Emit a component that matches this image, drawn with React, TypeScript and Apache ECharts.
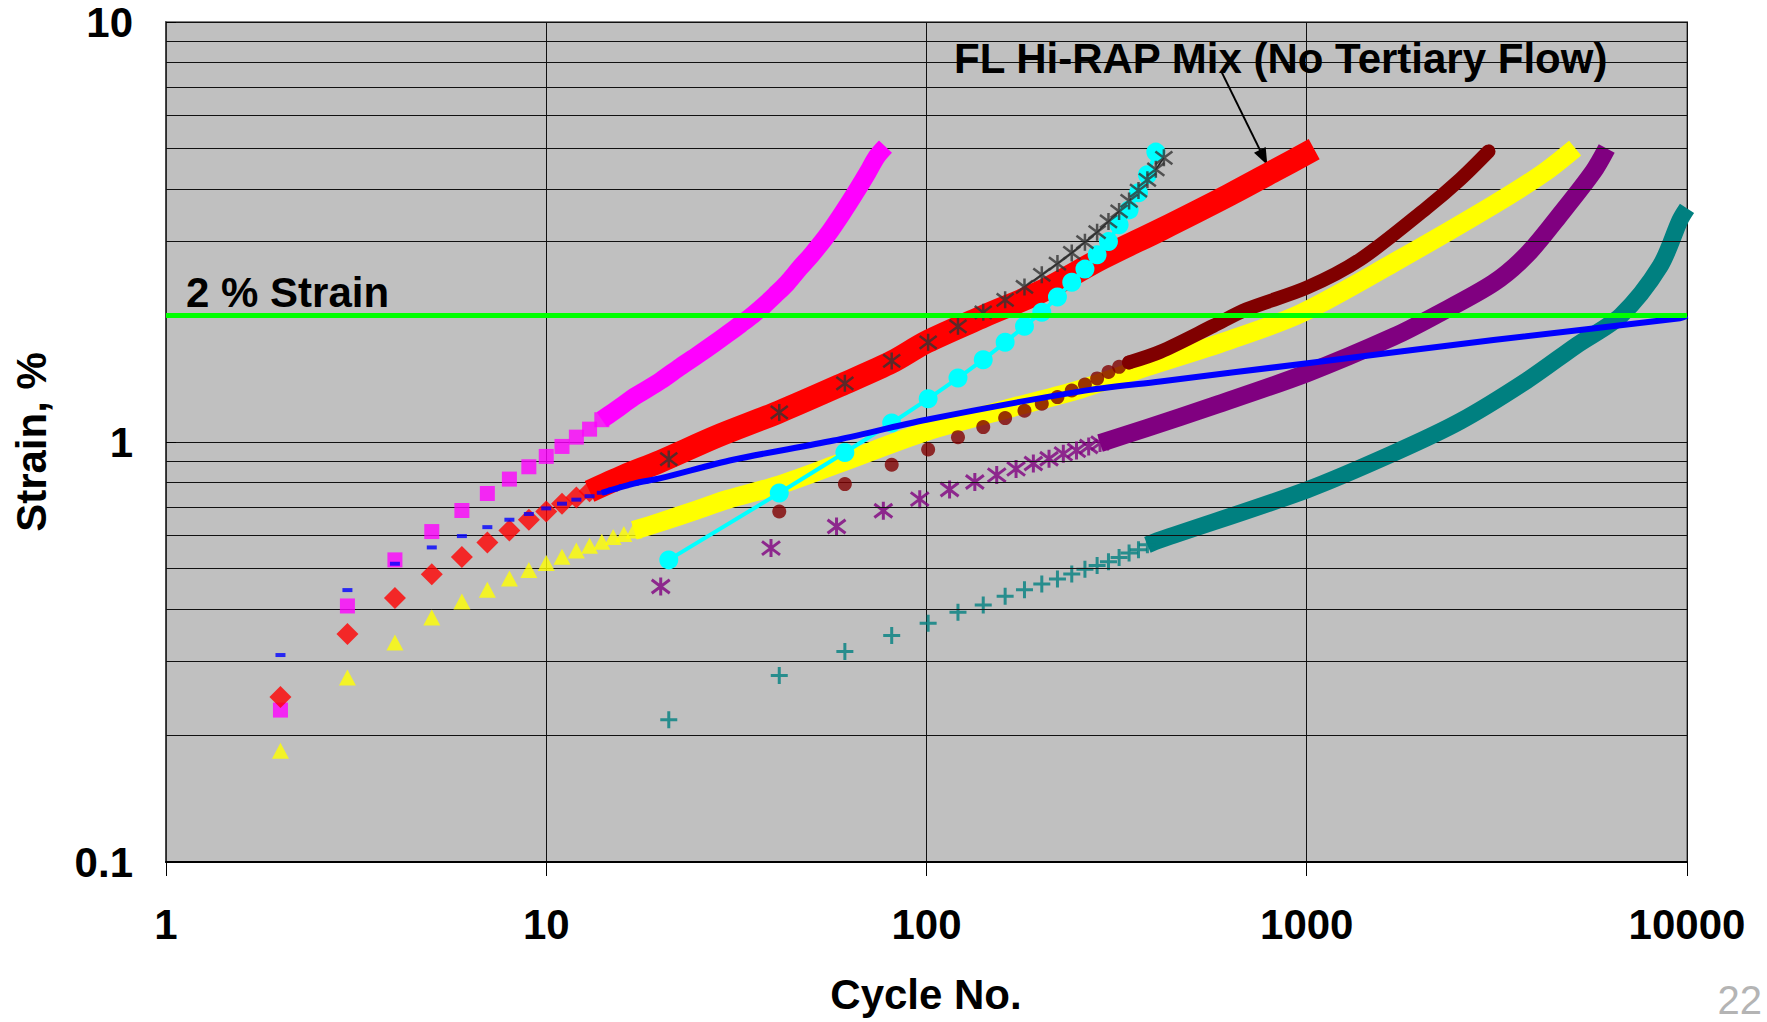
import React, { useEffect, useRef } from 'react';
import * as echarts from 'echarts';

// ---------- tick labels ----------
const X_TICK_LABELS = ['1', '10', '100', '1000', '10000'];
const Y_TICK_LABELS = ['0.1', '1', '10'];
const Y_MINOR_GRID = [0.2, 0.3, 0.4, 0.5, 0.6, 0.7, 0.8, 0.9, 2, 3, 4, 5, 6, 7, 8, 9];

// ---------- reference line / annotation ----------
const STRAIN_LIMIT = [[1, 2], [10000, 2]];
const ARROW_FROM = [596, 7.63];
const ARROW_TO = [770, 4.76];

// ---------- series (cycle, strain %) ----------
const MAGENTA_MARKERS = [[2, 0.23], [3, 0.407], [4, 0.524], [5, 0.612], [6, 0.687], [7, 0.754], [8, 0.816], [9, 0.873], [10, 0.924], [11, 0.976], [12, 1.027], [13, 1.073], [14, 1.13]];
const MAGENTA_BAND = [[14, 1.13], [15, 1.18], [16, 1.23], [17, 1.28], [18, 1.32], [20, 1.4], [22.5, 1.51], [25, 1.61], [27.5, 1.71], [30, 1.81], [32.5, 1.91], [35, 2.01], [37.5, 2.12], [40, 2.24], [43, 2.39], [46.5, 2.6], [50, 2.8], [55, 3.12], [60, 3.5], [65, 3.92], [70, 4.38], [74, 4.78], [78, 5.05]];

const RED_MARKERS = [[2, 0.247], [3, 0.349], [4, 0.425], [5, 0.484], [6, 0.532], [7, 0.576], [8, 0.616], [9, 0.653], [10, 0.683], [11, 0.713], [12, 0.738], [13, 0.763]];
const RED_BAND = [[13, 0.763], [16, 0.83], [20, 0.9], [28, 1.03], [41, 1.18], [61, 1.38], [81, 1.55], [100, 1.73], [141, 1.99], [200, 2.28], [290, 2.74], [412, 3.2], [617, 3.85], [820, 4.42], [1046, 4.98]];

const BLUE_MARKERS = [[2, 0.311], [3, 0.444], [4, 0.513], [5, 0.561], [6, 0.597], [7, 0.627], [8, 0.653], [9, 0.674], [10, 0.695], [11, 0.713], [12, 0.729], [13, 0.743], [14, 0.757], [15, 0.771], [16, 0.785], [17, 0.796], [18, 0.805]];
const BLUE_BAND = [[14, 0.757], [17, 0.796], [20, 0.82], [31, 0.907], [57, 1.008], [100, 1.13], [254, 1.32], [412, 1.394], [1004, 1.54], [3097, 1.75], [9590, 1.97], [10000, 2.0]];

const YELLOW_MARKERS = [[2, 0.184], [3, 0.275], [4, 0.333], [5, 0.382], [6, 0.417], [7, 0.445], [8, 0.473], [9, 0.496], [10, 0.515], [11, 0.533], [12, 0.552], [13, 0.566], [14, 0.579], [15, 0.594], [16, 0.604], [17, 0.616]];
const YELLOW_BAND = [[17, 0.616], [20, 0.645], [25, 0.69], [30, 0.73], [41, 0.79], [61, 0.9], [100, 1.06], [169, 1.21], [250, 1.33], [380, 1.51], [617, 1.74], [961, 2.02], [1690, 2.67], [3097, 3.67], [4193, 4.37], [5079, 5.01]];

const DARKRED_MARKERS = [[21, 0.519], [41, 0.683], [61, 0.794], [81, 0.883], [101, 0.96], [121, 1.027], [141, 1.085], [161, 1.14], [181, 1.187], [201, 1.233], [221, 1.279], [241, 1.326], [261, 1.37], [281, 1.417], [301, 1.468], [321, 1.51], [341, 1.547]];
const DARKRED_BAND = [[341, 1.547], [412, 1.64], [568, 1.89], [695, 2.07], [1000, 2.33], [1382, 2.72], [2069, 3.61], [2532, 4.22], [3006, 4.92]];

const CYAN_POINTS = [[21, 0.524], [41, 0.756], [61, 0.944], [81, 1.11], [101, 1.267], [121, 1.42], [141, 1.57], [161, 1.727], [181, 1.886], [201, 2.036], [221, 2.215], [241, 2.4], [261, 2.58], [281, 2.79], [301, 3.0], [321, 3.29], [341, 3.57], [361, 3.92], [381, 4.33], [401, 4.9]];

const GRAY_POINTS = [[21, 0.911], [41, 1.176], [61, 1.38], [81, 1.56], [101, 1.727], [121, 1.886], [141, 2.036], [161, 2.18], [181, 2.34], [201, 2.5], [221, 2.66], [241, 2.82], [261, 2.99], [281, 3.16], [301, 3.35], [321, 3.54], [341, 3.75], [361, 3.97], [381, 4.21], [401, 4.46], [421, 4.75]];

const PURPLE_MARKERS = [[20, 0.453], [39, 0.559], [58, 0.629], [77, 0.686], [96, 0.731], [115, 0.771], [134, 0.803], [153, 0.834], [172, 0.863], [191, 0.889], [210, 0.912], [229, 0.937], [248, 0.955], [267, 0.976], [286, 0.994]];
const PURPLE_BAND = [[286, 0.994], [380, 1.08], [569, 1.22], [1004, 1.46], [1690, 1.78], [2176, 2.0], [3097, 2.39], [3790, 2.79], [4638, 3.48], [5675, 4.41], [6150, 5.0]];

const TEAL_MARKERS = [[21, 0.218], [41, 0.278], [61, 0.317], [81, 0.346], [101, 0.37], [121, 0.393], [141, 0.409], [161, 0.429], [181, 0.445], [201, 0.459], [221, 0.472], [241, 0.485], [261, 0.498], [281, 0.508], [301, 0.519], [321, 0.531], [341, 0.544], [361, 0.554], [381, 0.569]];
const TEAL_BAND = [[381, 0.569], [412, 0.585], [1004, 0.77], [1690, 0.94], [2532, 1.12], [3790, 1.4], [5130, 1.7], [6700, 2.0], [8494, 2.62], [9590, 3.38], [10000, 3.6]];

const FONT = '"Liberation Sans", Arial, Helvetica, sans-serif';
const ASTERISK = 'path://M0,-8L0,8M-7,-6L7,6M-7,6L7,-6';
const PLUS = 'path://M0,-8L0,8M-8,0L8,0';

function markers(name: string, data: number[][], symbol: string, size: any, color: string, z: number, stroke = 0) {
  return {
    name, type: 'scatter', data, symbol, symbolSize: size, z, silent: true,
    itemStyle: stroke ? { color, borderColor: color, borderWidth: stroke } : { color },
  };
}

function band(name: string, data: number[][], color: string, width: number, z: number, cap = 'butt') {
  return {
    name, type: 'line', data, z, symbol: 'none', smooth: 0.3, silent: true,
    lineStyle: { color, width, cap, join: 'round' },
  };
}

export default function App() {
  const ref = useRef<HTMLDivElement>(null);
  useEffect(() => {
    if (!ref.current) return;
    const chart = echarts.init(ref.current, undefined, { renderer: 'svg' });
    const option: any = {
      animation: false,
      backgroundColor: '#ffffff',
      grid: {
        left: 166, right: 80, top: 22, bottom: 160, show: true,
        backgroundColor: '#C0C0C0', borderColor: '#808080', borderWidth: 2,
      },
      xAxis: {
        type: 'log', logBase: 10, min: 1, max: 10000,
        axisLine: { show: true, onZero: false, lineStyle: { color: '#000', width: 2 } },
        axisTick: { show: true, length: 14, lineStyle: { color: '#000', width: 1 } },
        splitLine: { show: true, lineStyle: { color: '#111', width: 1 } },
        minorTick: { show: false },
        axisLabel: {
          margin: 41, color: '#000', fontFamily: FONT, fontWeight: 'bold', fontSize: 42,
          formatter: (v: number) => X_TICK_LABELS[Math.round(Math.log10(v))] ?? '',
        },
      },
      yAxis: {
        type: 'log', logBase: 10, min: 0.1, max: 10,
        axisLine: { show: true, onZero: false, lineStyle: { color: '#333', width: 1.5 } },
        axisTick: { show: true, inside: true, length: 10, lineStyle: { color: '#000', width: 1 } },
        splitLine: { show: true, lineStyle: { color: '#111', width: 1 } },
        axisLabel: {
          margin: 33, color: '#000', fontFamily: FONT, fontWeight: 'bold', fontSize: 42,
          formatter: (v: number) => Y_TICK_LABELS[Math.round(Math.log10(v)) + 1] ?? '',
        },
      },
      series: [
        {
          name: 'minorGrid', type: 'line', data: [], z: 1, silent: true,
          markLine: {
            silent: true, symbol: ['none', 'none'], animation: false,
            label: { show: false },
            lineStyle: { type: 'solid', color: '#111', width: 1 },
            data: Y_MINOR_GRID.map((v) => ({ yAxis: v })),
          },
        },
        // teal
        band('tealBand', TEAL_BAND, '#008080', 17, 3),
        markers('teal', TEAL_MARKERS, PLUS, 17, '#008080', 3, 3),
        // purple
        band('purpleBand', PURPLE_BAND, '#800080', 18, 4),
        markers('purple', PURPLE_MARKERS, ASTERISK, 18, '#800080', 4, 3),
        // yellow
        band('yellowBand', YELLOW_BAND, '#FFFF00', 19, 5),
        markers('yellow', YELLOW_MARKERS, 'triangle', [17, 16], '#FFFF00', 5),
        // dark red
        band('darkredBand', DARKRED_BAND, '#800000', 14, 6, 'round'),
        markers('darkred', DARKRED_MARKERS, 'circle', 14, '#800000', 6),
        // magenta
        band('magentaBand', MAGENTA_BAND, '#FF00FF', 18, 7),
        markers('magenta', MAGENTA_MARKERS, 'rect', 15, '#FF00FF', 7),
        // dark gray connecting line (drawn beneath the red band)
        {
          name: 'grayLine', type: 'line', data: GRAY_POINTS, z: 7, silent: true, symbol: 'none',
          lineStyle: { color: '#222222', width: 1.5 },
        },
        // red
        band('redBand', RED_BAND, '#FF0000', 23, 8),
        markers('red', RED_MARKERS, 'diamond', 22, '#FF0000', 8),
        // cyan
        {
          name: 'cyan', type: 'line', data: CYAN_POINTS, z: 9, silent: true,
          symbol: 'circle', symbolSize: 19, showAllSymbol: true,
          itemStyle: { color: '#00FFFF', borderWidth: 0 },
          lineStyle: { color: '#00FFFF', width: 4 },
        },
        // dark gray markers
        markers('gray', GRAY_POINTS, ASTERISK, 17, '#333333', 10, 2.5),
        // blue
        band('blueBand', BLUE_BAND, '#0000FF', 6, 11),
        markers('blue', BLUE_MARKERS, 'rect', [10, 4], '#0000FF', 11),
        // 2% strain line
        {
          name: 'limit', type: 'line', data: STRAIN_LIMIT, z: 12, silent: true, symbol: 'none',
          lineStyle: { color: '#00FF00', width: 5 },
        },
        // annotation arrow
        {
          name: 'arrow', type: 'line', data: [], z: 13, silent: true,
          markLine: {
            silent: true, animation: false, symbol: ['none', 'triangle'], symbolSize: [13, 17],
            label: { show: false },
            lineStyle: { type: 'solid', color: '#000', width: 2 },
            itemStyle: { color: '#000' },
            data: [[{ coord: ARROW_FROM }, { coord: ARROW_TO }]],
          },
        },
      ],
      graphic: [
        {
          type: 'text', x: 186, y: 292, z: 100, silent: true,
          style: { text: '2 % Strain', fill: '#000', font: `bold 42px ${FONT}`, align: 'left', verticalAlign: 'middle', textAlign: 'left', textVerticalAlign: 'middle' },
        },
        {
          type: 'text', x: 954, y: 58, z: 100, silent: true,
          style: { text: 'FL Hi-RAP Mix (No Tertiary Flow)', fill: '#000', font: `bold 42px ${FONT}`, align: 'left', verticalAlign: 'middle', textAlign: 'left', textVerticalAlign: 'middle' },
        },
        {
          type: 'text', x: 31, y: 442, rotation: Math.PI / 2, z: 100, silent: true,
          style: { text: 'Strain, %', fill: '#000', font: `bold 42px ${FONT}`, align: 'center', verticalAlign: 'middle', textAlign: 'center', textVerticalAlign: 'middle' },
        },
        {
          type: 'text', x: 926, y: 994, z: 100, silent: true,
          style: { text: 'Cycle No.', fill: '#000', font: `bold 42px ${FONT}`, align: 'center', verticalAlign: 'middle', textAlign: 'center', textVerticalAlign: 'middle' },
        },
        {
          type: 'text', x: 1762, y: 1000, z: 100, silent: true,
          style: { text: '22', fill: '#B4B4B4', font: `40px ${FONT}`, align: 'right', verticalAlign: 'middle', textAlign: 'right', textVerticalAlign: 'middle' },
        },
      ],
    };
    chart.setOption(option);
    return () => chart.dispose();
  }, []);
  return (
    <div
      ref={ref}
      style={{ position: 'fixed', left: 0, top: 0, width: '1767px', height: '1022px', background: '#fff' }}
    />
  );
}
